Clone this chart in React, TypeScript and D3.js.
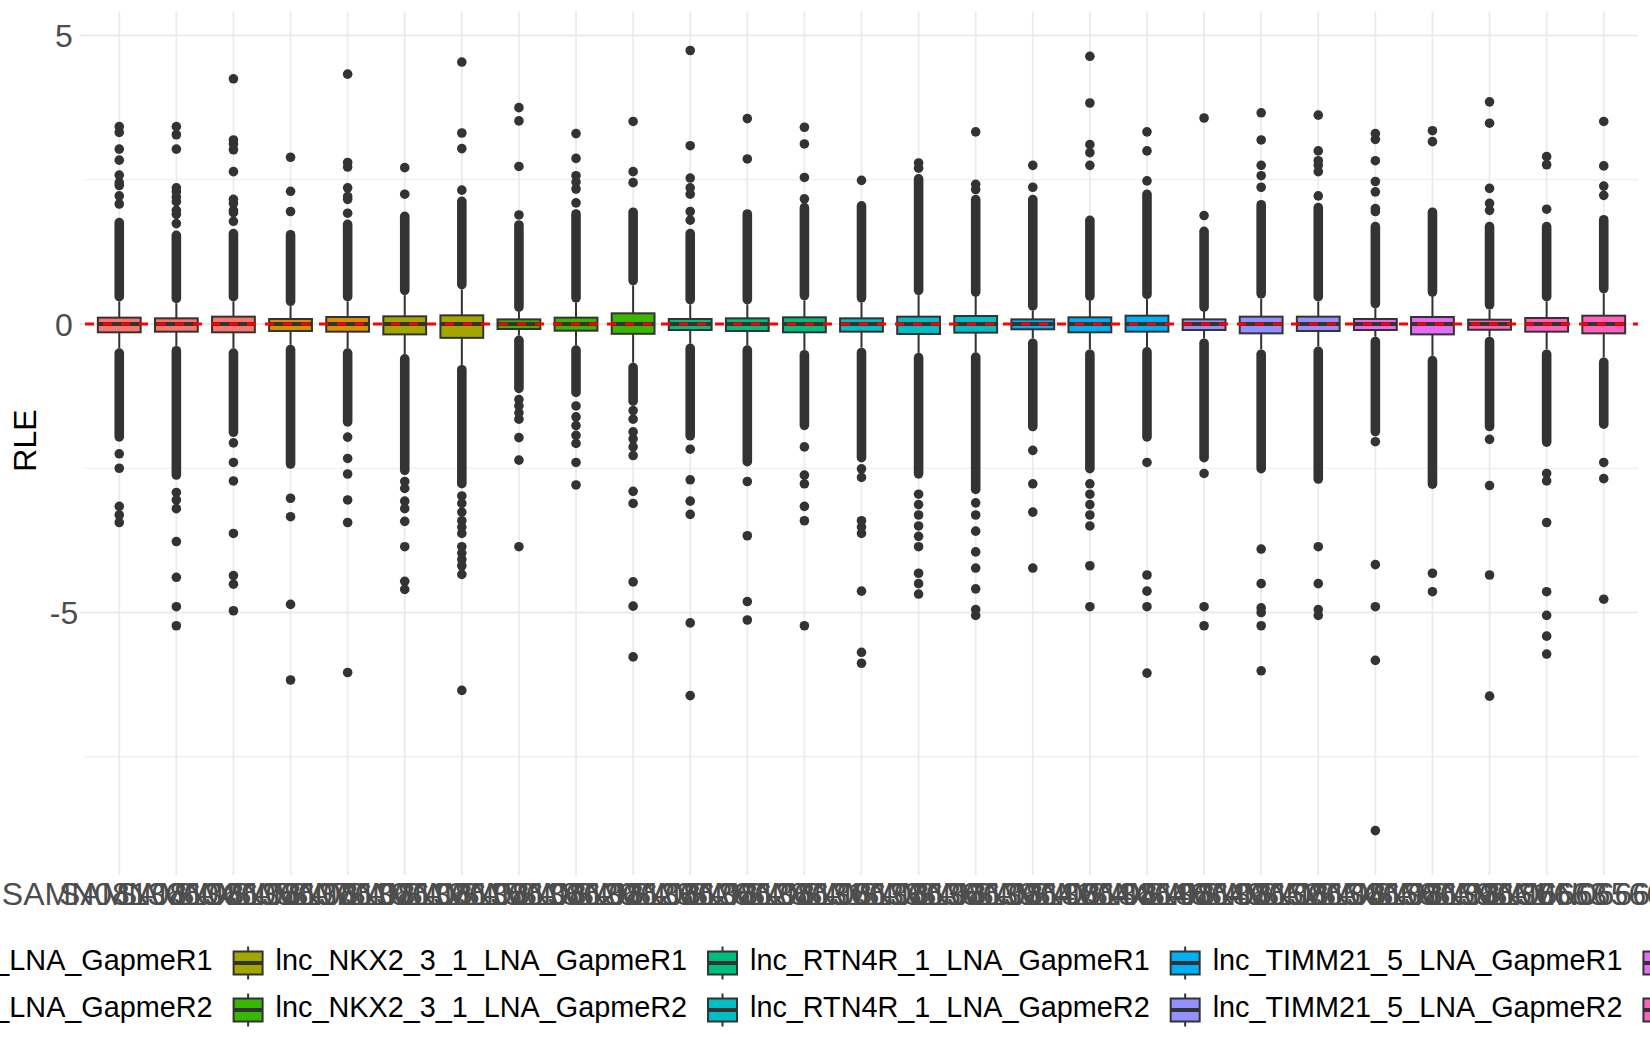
import React, { useEffect, useRef } from 'react';
import * as d3 from 'd3';

// RLE boxplot per sample, fill by treatment group

const samples = [
  'SAMN08136604', 'SAMN08136605', 'SAMN08136607', 'SAMN08136610', 'SAMN08136612',
  'SAMN08136615', 'SAMN08136618', 'SAMN08136620', 'SAMN08136623', 'SAMN08136626',
  'SAMN08136628', 'SAMN08136631', 'SAMN08136633', 'SAMN08136636', 'SAMN08136639',
  'SAMN08136641', 'SAMN08136644', 'SAMN08136646', 'SAMN08136649', 'SAMN08136652',
  'SAMN08136654', 'SAMN08136656', 'SAMN08136659', 'SAMN08136661', 'SAMN08136663',
  'SAMN06666566', 'SAMN06666606',
];

const groups = [
  'lnc_LINC00473_LNA_GapmeR1', 'lnc_LINC00473_LNA_GapmeR2',
  'lnc_NKX2_3_1_LNA_GapmeR1', 'lnc_NKX2_3_1_LNA_GapmeR2',
  'lnc_RTN4R_1_LNA_GapmeR1', 'lnc_RTN4R_1_LNA_GapmeR2',
  'lnc_TIMM21_5_LNA_GapmeR1', 'lnc_TIMM21_5_LNA_GapmeR2',
  'Negative_control_A', 'Negative_control_B',
];

const groupColors = [
  '#F8766D', '#D89000', '#A3A500', '#39B600', '#00BF7D',
  '#00BFC4', '#00B0F6', '#9590FF', '#E76BF3', '#FF62BC',
];

const sampleGroup = [0, 0, 0, 1, 1, 2, 2, 3, 3, 3, 4, 4, 4, 5, 5, 5, 6, 6, 6, 7, 7, 7, 8, 8, 9, 9, 9];

const q1 = [
  -0.144, -0.133, -0.144, -0.121, -0.133, -0.18, -0.24, -0.087, -0.116, -0.17,
  -0.104, -0.121, -0.144, -0.133, -0.173, -0.15, -0.092, -0.144, -0.133, -0.104,
  -0.162, -0.121, -0.104, -0.18, -0.1, -0.133, -0.162,
];
const medians = [
  0, 0, 0, 0, 0, 0, 0, 0, 0, 0, 0, 0, 0, 0, 0, 0, 0, 0, 0, 0, 0, 0, 0, 0, 0, 0, 0,
];
const q3 = [
  0.11, 0.098, 0.127, 0.087, 0.121, 0.133, 0.15, 0.08, 0.11, 0.185,
  0.087, 0.098, 0.116, 0.098, 0.127, 0.139, 0.08, 0.116, 0.144, 0.08,
  0.127, 0.127, 0.087, 0.121, 0.075, 0.104, 0.144,
];

// dense runs of overlapping outliers: [inner edge, outer edge]
const upperBand: [number, number][] = [
  [0.39, 1.84], [0.36, 1.62], [0.39, 1.65], [0.31, 1.63], [0.39, 1.81],
  [0.5, 1.95], [0.6, 2.21], [0.21, 1.8], [0.37, 1.99], [0.67, 2.02],
  [0.34, 1.65], [0.34, 1.99], [0.41, 2.1], [0.37, 2.13], [0.5, 2.6],
  [0.47, 2.24], [0.23, 2.24], [0.4, 1.88], [0.43, 2.33], [0.21, 1.69],
  [0.44, 2.15], [0.39, 2.1], [0.27, 1.77], [0.47, 2.02], [0.25, 1.77],
  [0.39, 1.77], [0.53, 1.89],
];
const lowerBand: [number, number][] = [
  [-0.42, -2.04], [-0.38, -2.7], [-0.42, -1.96], [-0.36, -2.51], [-0.42, -1.78],
  [-0.52, -2.62], [-0.71, -2.85], [-0.2, -1.2], [-0.37, -1.27], [-0.67, -1.42],
  [-0.34, -2.02], [-0.37, -2.47], [-0.45, -1.84], [-0.41, -2.4], [-0.5, -2.68],
  [-0.49, -2.95], [-0.25, -1.86], [-0.44, -2.59], [-0.4, -2.04], [-0.25, -2.4],
  [-0.44, -2.59], [-0.39, -2.77], [-0.22, -1.95], [-0.55, -2.86], [-0.22, -1.86],
  [-0.44, -2.13], [-0.58, -1.82],
];

// separate outlier points
const upperOutliers = [
  [2.08, 2.22, 2.4, 2.45, 2.58, 2.84, 3.03, 3.32, 3.42],
  [1.74, 1.9, 1.97, 2.12, 2.2, 2.29, 2.36, 3.03, 3.28, 3.42],
  [1.78, 1.93, 1.97, 2.09, 2.16, 2.64, 3.02, 3.12, 3.19, 4.25],
  [1.95, 2.3, 2.89],
  [1.92, 2.16, 2.21, 2.36, 2.72, 2.8, 4.33],
  [2.25, 2.71],
  [2.32, 3.04, 3.31, 4.54],
  [1.89, 2.73, 3.52, 3.75],
  [2.1, 2.34, 2.46, 2.57, 2.87, 3.3],
  [2.45, 2.64, 3.51],
  [1.8, 1.95, 2.25, 2.36, 2.53, 3.09, 4.74],
  [2.86, 3.56],
  [2.17, 2.54, 3.12, 3.41],
  [2.49],
  [2.7, 2.79],
  [2.33, 2.42, 3.33],
  [2.37, 2.75],
  [2.75, 2.97, 3.11, 3.83, 4.64],
  [2.48, 3.0, 3.33],
  [1.88, 3.57],
  [2.37, 2.57, 2.75, 3.19, 3.66],
  [2.22, 2.64, 2.75, 2.83, 3.0, 3.62],
  [1.95, 2.0, 2.29, 2.47, 2.83, 3.2, 3.3],
  [3.16, 3.35],
  [1.97, 2.09, 2.35, 3.48, 3.85],
  [1.99, 2.76, 2.9],
  [2.23, 2.39, 2.74, 3.51],
];
const lowerOutliers = [
  [-2.25, -2.5, -3.16, -3.31, -3.44],
  [-2.92, -3.05, -3.2, -3.77, -4.39, -4.9, -5.23],
  [-2.06, -2.4, -2.72, -3.63, -4.36, -4.51, -4.97],
  [-3.02, -3.34, -4.86, -6.17],
  [-1.96, -2.33, -2.6, -3.05, -3.44, -6.04],
  [-2.73, -2.85, -3.07, -3.2, -3.42, -3.86, -4.46, -4.6],
  [-2.98, -3.11, -3.26, -3.41, -3.52, -3.63, -3.86, -3.97, -4.08, -4.19, -4.34, -6.35],
  [-1.31, -1.42, -1.54, -1.65, -1.97, -2.36, -3.86],
  [-1.42, -1.61, -1.76, -1.93, -2.07, -2.4, -2.79],
  [-1.5, -1.65, -1.87, -1.99, -2.13, -2.28, -2.9, -3.11, -4.47, -4.89, -5.77],
  [-2.17, -2.7, -3.07, -3.3, -5.18, -6.44],
  [-2.73, -3.67, -4.81, -5.13],
  [-2.13, -2.62, -2.77, -3.16, -3.41, -5.23],
  [-2.51, -2.66, -3.41, -3.52, -3.63, -4.63, -5.69, -5.88],
  [-2.95, -3.13, -3.31, -3.5, -3.68, -3.86, -4.32, -4.5, -4.68],
  [-3.1, -3.31, -3.59, -3.95, -4.23, -4.59, -4.95, -5.05],
  [-2.19, -2.77, -3.26, -4.23],
  [-2.77, -2.95, -3.13, -3.31, -3.5, -4.19, -4.9],
  [-2.4, -4.35, -4.63, -4.9, -6.05],
  [-2.59, -4.9, -5.23],
  [-3.9, -4.5, -4.92, -5.0, -5.23, -6.01],
  [-3.86, -4.5, -4.95, -5.05],
  [-2.04, -4.17, -4.9, -5.83, -8.78],
  [-4.32, -4.64],
  [-2.0, -2.8, -4.35, -6.45],
  [-2.59, -2.72, -3.44, -4.64, -5.05, -5.41, -5.72],
  [-2.4, -2.68, -4.77],
];

const yTicks = [-5, 0, 5];
const yMinorTicks = [-7.5, -2.5, 2.5];

const WIDTH = 1650;
const HEIGHT = 1050;
const FONT = '"Liberation Sans", Arial, Helvetica, sans-serif';

export default function App() {
  const svgRef = useRef<SVGSVGElement>(null);

  useEffect(() => {
    if (!svgRef.current) return;
    document.body.style.margin = '0';

    const svg = d3.select(svgRef.current);
    svg.selectAll('*').remove();

    const panel = { left: 85, right: 1638, top: 11.5, bottom: 869.6 };

    const x = d3
      .scaleBand<string>()
      .domain(samples)
      .range([panel.left, panel.right])
      .paddingInner(0)
      .paddingOuter(0.1);
    const cx = (i: number) => (x(samples[i]) || 0) + x.bandwidth() / 2;

    const allValues = [
      ...upperOutliers.flat(),
      ...lowerOutliers.flat(),
      ...upperBand.flat(),
      ...lowerBand.flat(),
    ];
    const [lo, hi] = d3.extent(allValues) as [number, number];
    const pad = (hi - lo) * 0.05;
    const y = d3.scaleLinear().domain([lo - pad, hi + pad]).range([panel.bottom, panel.top]);

    const gridColor = '#EBEBEB';

    // Grid lines
    svg
      .append('g')
      .selectAll('line')
      .data(yMinorTicks)
      .join('line')
      .attr('x1', panel.left)
      .attr('x2', panel.right)
      .attr('y1', (d) => y(d))
      .attr('y2', (d) => y(d))
      .attr('stroke', gridColor)
      .attr('stroke-width', 1);

    svg
      .append('g')
      .selectAll('line')
      .data(yTicks)
      .join('line')
      .attr('x1', panel.left - 5.5)
      .attr('x2', panel.right)
      .attr('y1', (d) => y(d))
      .attr('y2', (d) => y(d))
      .attr('stroke', gridColor)
      .attr('stroke-width', 1.8);

    svg
      .append('g')
      .selectAll('line')
      .data(samples)
      .join('line')
      .attr('x1', (_, i) => cx(i))
      .attr('x2', (_, i) => cx(i))
      .attr('y1', panel.top)
      .attr('y2', panel.bottom + 5.5)
      .attr('stroke', gridColor)
      .attr('stroke-width', 1.8);

    // Boxes
    const r = 4.8;
    const bw = x.bandwidth() * 0.75;
    const ink = '#333333';

    samples.forEach((s, i) => {
      const g = svg.append('g');
      const c = cx(i);

      // dense outlier runs
      [upperBand[i], lowerBand[i]].forEach(([a, b]) => {
        const top = y(Math.max(a, b));
        const bottom = y(Math.min(a, b));
        g.append('rect')
          .attr('x', c - r)
          .attr('width', 2 * r)
          .attr('y', top)
          .attr('height', bottom - top)
          .attr('rx', r)
          .attr('fill', ink);
      });

      g.selectAll('circle')
        .data([...upperOutliers[i], ...lowerOutliers[i]])
        .join('circle')
        .attr('cx', c)
        .attr('cy', (d) => y(d))
        .attr('r', r)
        .attr('fill', ink);

      // whiskers
      g.append('line')
        .attr('x1', c)
        .attr('x2', c)
        .attr('y1', y(q3[i]))
        .attr('y2', y(upperBand[i][0]))
        .attr('stroke', ink)
        .attr('stroke-width', 2);
      g.append('line')
        .attr('x1', c)
        .attr('x2', c)
        .attr('y1', y(q1[i]))
        .attr('y2', y(lowerBand[i][0]))
        .attr('stroke', ink)
        .attr('stroke-width', 2);

      g.append('rect')
        .attr('x', c - bw / 2)
        .attr('width', bw)
        .attr('y', y(q3[i]))
        .attr('height', y(q1[i]) - y(q3[i]))
        .attr('fill', groupColors[sampleGroup[i]])
        .attr('stroke', ink)
        .attr('stroke-width', 2);

      g.append('line')
        .attr('x1', c - bw / 2)
        .attr('x2', c + bw / 2)
        .attr('y1', y(medians[i]))
        .attr('y2', y(medians[i]))
        .attr('stroke', ink)
        .attr('stroke-width', 4);
    });

    // Reference line at 0
    svg
      .append('line')
      .attr('x1', panel.left)
      .attr('x2', panel.right)
      .attr('y1', y(0))
      .attr('y2', y(0))
      .attr('stroke', '#FF0000')
      .attr('stroke-width', 2.8)
      .attr('stroke-dasharray', '9,9');

    // Axis labels
    svg
      .append('g')
      .selectAll('text')
      .data(yTicks)
      .join('text')
      .attr('x', 64)
      .attr('y', (d) => y(d) + 11.6)
      .attr('text-anchor', 'middle')
      .attr('font-family', FONT)
      .attr('font-size', 32)
      .attr('fill', '#4D4D4D')
      .text((d) => String(d));

    svg
      .append('g')
      .selectAll('text')
      .data(samples)
      .join('text')
      .attr('x', (_, i) => cx(i))
      .attr('y', 905)
      .attr('text-anchor', 'middle')
      .attr('font-family', FONT)
      .attr('font-size', 32)
      .attr('fill', '#4D4D4D')
      .text((d) => d);

    svg
      .append('text')
      .attr('transform', `translate(36,${(panel.top + panel.bottom) / 2}) rotate(-90)`)
      .attr('text-anchor', 'middle')
      .attr('font-family', FONT)
      .attr('font-size', 32)
      .attr('fill', '#000')
      .text('RLE');

    // Legend: 2 rows, filled by column
    const legend = svg.append('g');
    const rowCenters = [963, 1010];
    const legendFont = 28.8;
    const keyW = 29;
    const keyH = 23;
    const whisk = 16.5;
    const nCols = Math.ceil(groups.length / 2);

    const measure = legend
      .append('text')
      .attr('font-family', FONT)
      .attr('font-size', legendFont)
      .attr('visibility', 'hidden');
    const textLen = groups.map((name) => {
      measure.text(name);
      return (measure.node() as SVGTextElement).getComputedTextLength();
    });
    measure.remove();

    const colWidths = d3.range(nCols).map(
      (c) => 42 + Math.max(textLen[2 * c] || 0, textLen[2 * c + 1] || 0) + 21
    );
    const anchorCol = 1;
    const anchorX = 233.6;
    const colStarts = d3.range(nCols).map((c) => {
      if (c >= anchorCol) return anchorX + d3.sum(colWidths.slice(anchorCol, c));
      return anchorX - d3.sum(colWidths.slice(c, anchorCol));
    });

    groups.forEach((name, k) => {
      const col = Math.floor(k / 2);
      const row = k % 2;
      const bx = colStarts[col];
      const cy = rowCenters[row];
      const kg = legend.append('g');
      kg.append('line')
        .attr('x1', bx + keyW / 2)
        .attr('x2', bx + keyW / 2)
        .attr('y1', cy - whisk)
        .attr('y2', cy + whisk)
        .attr('stroke', ink)
        .attr('stroke-width', 2);
      kg.append('rect')
        .attr('x', bx)
        .attr('y', cy - keyH / 2)
        .attr('width', keyW)
        .attr('height', keyH)
        .attr('fill', groupColors[k])
        .attr('stroke', ink)
        .attr('stroke-width', 2);
      kg.append('line')
        .attr('x1', bx)
        .attr('x2', bx + keyW)
        .attr('y1', cy)
        .attr('y2', cy)
        .attr('stroke', ink)
        .attr('stroke-width', 4);
      kg.append('text')
        .attr('x', bx + 42)
        .attr('y', cy + 7)
        .attr('font-family', FONT)
        .attr('font-size', legendFont)
        .attr('fill', '#000')
        .text(name);
    });
  }, []);

  return (
    <svg
      ref={svgRef}
      width={WIDTH}
      height={HEIGHT}
      style={{ display: 'block', background: '#fff' }}
    />
  );
}
